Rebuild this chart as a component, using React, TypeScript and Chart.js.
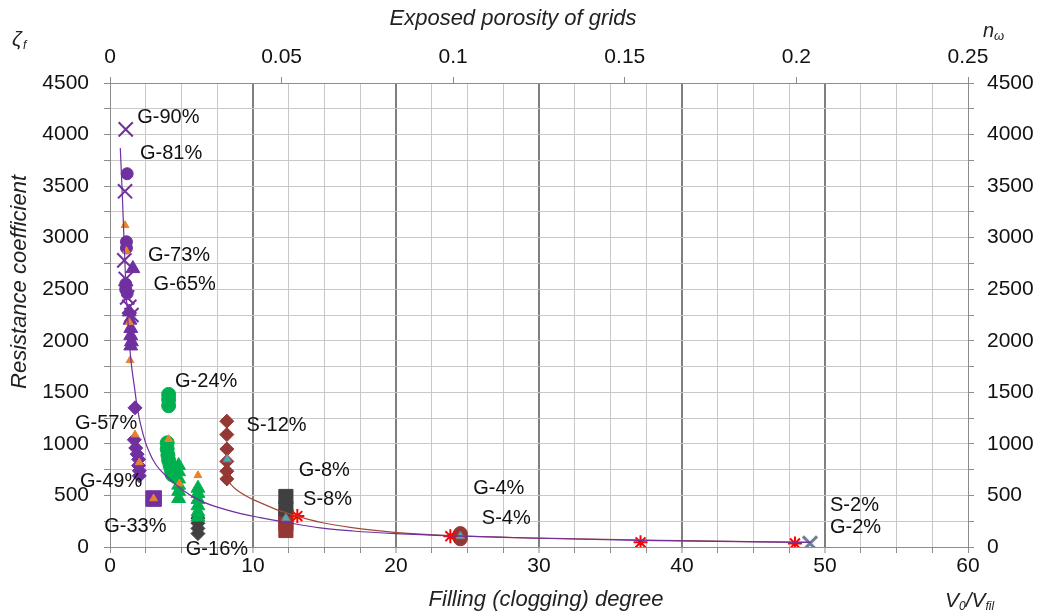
import React, { useEffect, useRef } from 'react';
import { Chart, registerables } from 'chart.js';
Chart.register(...registerables);

const FONT = "'Liberation Sans', Arial, sans-serif";

// ---- data (x = filling degree V0/Vfil, y = resistance coefficient) ----
const purpleCross = [[1.1, 4050], [1.05, 3450], [1.0, 2780], [1.1, 2600], [1.2, 2420], [1.35, 2330], [1.5, 2250]];
const purpleCircle = [[1.2, 3620], [1.15, 2960], [1.15, 2900], [1.1, 2550], [1.1, 2500], [1.2, 2460]];
const purpleTriangle = [[1.6, 2700], [1.35, 2280], [1.4, 2200], [1.45, 2120], [1.45, 2050], [1.5, 1990], [1.45, 1950]];
const purpleDiamond = [[1.75, 1350], [1.7, 1040], [1.8, 960], [1.9, 900], [2.0, 850], [2.0, 790], [2.05, 740], [2.05, 690]];
const purpleSquare = [[3.05, 470]];
const orangeTriangle = [[1.05, 3120], [1.15, 2870], [1.35, 2180], [1.4, 1810], [1.75, 1090], [2.05, 820], [3.05, 470], [4.1, 1045], [4.85, 615], [6.15, 695]];
const blueTriangle = [[8.2, 850], [12.3, 280], [24.5, 105]];
const greenCircle = [[4.1, 1480], [4.1, 1430], [4.1, 1370], [4.0, 1010], [4.0, 950], [4.05, 890], [4.1, 840], [4.2, 790], [4.3, 740], [4.35, 700]];
const greenTriangle = [[4.8, 790], [4.8, 730], [4.8, 660], [4.8, 600], [4.8, 540], [4.8, 470], [6.15, 570], [6.15, 520], [6.15, 460], [6.15, 400], [6.15, 340], [6.15, 290]];
const greyDiamond = [[6.15, 280], [6.15, 230], [6.15, 180], [6.15, 130]];
const greySquare = [[12.3, 490], [12.3, 370]];
const redDiamond = [[8.17, 1220], [8.17, 1090], [8.17, 950], [8.17, 830], [8.17, 735], [8.17, 660]];
const redSquare = [[12.3, 300], [12.3, 230], [12.3, 160]];
const redCircle = [[24.5, 130], [24.5, 100], [24.5, 80]];
const redStar = [[13.1, 300], [23.8, 105], [37.1, 45], [47.9, 35]];
const slateCross = [[48.95, 35]];

const purpleTrend = [[0.72, 3870], [0.85, 3450], [0.95, 3090], [1.12, 2500], [1.3, 2100], [1.47, 1800], [1.7, 1560], [1.93, 1330], [2.3, 1100], [2.65, 950], [3.2, 800], [4.0, 680], [5.0, 560], [6.3, 450], [8.4, 350], [10.5, 285], [12.3, 240], [14.7, 185], [17, 155], [20, 130], [24, 108], [30, 85], [37, 65], [44, 52], [49, 44]];
const brownTrend = [[8.3, 630], [8.8, 560], [9.85, 470], [10.5, 430], [11.9, 350], [13.1, 300], [14.7, 240], [16.8, 190], [20.1, 140], [23.8, 110], [30, 86], [40, 62], [49, 45]];

const groupLabels = ['G-90%', 'G-81%', 'G-73%', 'G-65%', 'G-24%', 'G-57%', 'S-12%', 'G-49%', 'G-8%', 'S-8%', 'G-4%', 'S-4%', 'G-33%', 'G-16%', 'S-2%', 'G-2%'];
const groupLabelX = [1.9, 2.1, 2.65, 3.05, 4.55, -2.45, 9.55, -2.1, 13.2, 13.5, 25.4, 26.0, -0.4, 5.3, 50.35, 50.35];
const groupLabelY = [4170, 3820, 2830, 2550, 1605, 1200, 1180, 640, 745, 465, 570, 280, 195, -20, 405, 185];

const topTickLabels = ['0', '0.05', '0.1', '0.15', '0.2', '0.25'];

const pts = (a: number[][]) => a.map(([x, y]) => ({ x, y }));

function sc(data: number[][], pointStyle: string, fill: string, border: string, r: number, bw = 1): any {
  return {
    type: 'scatter',
    data: pts(data),
    pointStyle,
    pointRadius: r,
    pointBackgroundColor: fill,
    pointBorderColor: border,
    pointBorderWidth: bw,
    showLine: false,
  };
}

function ln(data: number[][], color: string): any {
  return {
    type: 'scatter',
    data: pts(data),
    showLine: true,
    borderColor: color,
    borderWidth: 1.2,
    pointRadius: 0,
    cubicInterpolationMode: 'monotone',
    fill: false,
  };
}

const textPlugin = {
  id: 'texts',
  afterDraw(chart: any) {
    const ctx = chart.ctx;
    const xs = chart.scales.x;
    const ys = chart.scales.y;
    ctx.save();
    ctx.fillStyle = '#111';
    ctx.textBaseline = 'middle';
    ctx.textAlign = 'left';
    ctx.font = `20px ${FONT}`;
    groupLabels.forEach((t, i) => {
      ctx.fillText(t, xs.getPixelForValue(groupLabelX[i]), ys.getPixelForValue(groupLabelY[i]));
    });
    ctx.font = `italic 22px ${FONT}`;
    ctx.textAlign = 'center';
    ctx.fillStyle = '#222';
    ctx.fillText('Exposed porosity of grids', 513, 19);
    ctx.fillText('Filling (clogging) degree', 546, 600);
    ctx.save();
    ctx.translate(20, 282);
    ctx.rotate(-Math.PI / 2);
    ctx.fillText('Resistance coefficient', 0, 0);
    ctx.restore();
    // zeta_f
    ctx.textAlign = 'left';
    ctx.font = `italic 21px ${FONT}`;
    ctx.fillText('ζ', 12, 40);
    ctx.font = `italic 12px ${FONT}`;
    ctx.fillText('f', 23, 46);
    // n_omega
    ctx.font = `italic 20px ${FONT}`;
    ctx.fillText('n', 983, 31);
    ctx.font = `italic 13px ${FONT}`;
    ctx.fillText('ω', 994, 36);
    // V0/Vfil
    ctx.font = `italic 21px ${FONT}`;
    let x = 945;
    ctx.fillText('V', x, 601);
    x += ctx.measureText('V').width;
    ctx.font = `italic 12px ${FONT}`;
    ctx.fillText('0', x, 607);
    x += ctx.measureText('0').width;
    ctx.font = `italic 21px ${FONT}`;
    ctx.fillText('/V', x, 601);
    x += ctx.measureText('/V').width;
    ctx.font = `italic 12px ${FONT}`;
    ctx.fillText('fil', x, 607);
    ctx.restore();
  },
};

export default function App() {
  const ref = useRef<HTMLCanvasElement | null>(null);
  useEffect(() => {
    if (!ref.current) return;
    const PURPLE = '#7030A0';
    const GREEN = '#00B050';
    const DRED = '#953735';
    const GREY = '#404040';
    const ORANGE = '#E8822E';
    const axisCol = '#8c8c8c';
    const tickFont = { family: FONT, size: 21 };
    const isMajor = (c: any) => c.tick && Math.abs(c.tick.value % 10) < 1e-6 && c.tick.value > 0 && c.tick.value < 60;
    const chart = new Chart(ref.current, {
      type: 'scatter',
      data: {
        datasets: [
          ln(purpleTrend, PURPLE),
          ln(brownTrend, '#A04A3A'),
          sc(orangeTriangle, 'triangle', ORANGE, ORANGE, 4.5),
          sc(blueTriangle, 'triangle', '#4BACC6', '#7f7f7f', 5),
          sc(redStar, 'star', '#FF0000', '#FF0000', 7, 2),
          sc(slateCross, 'crossRot', '#6E7F99', '#6E7F99', 10, 3),
          sc(purpleCross, 'crossRot', PURPLE, PURPLE, 10, 2),
          sc(purpleCircle, 'circle', PURPLE, PURPLE, 6),
          sc(purpleTriangle, 'triangle', PURPLE, PURPLE, 8),
          sc(purpleDiamond, 'rectRot', PURPLE, PURPLE, 7),
          sc(purpleSquare, 'rect', PURPLE, PURPLE, 11),
          sc(greenCircle, 'circle', GREEN, GREEN, 7),
          sc(greenTriangle, 'triangle', GREEN, GREEN, 8),
          sc(greyDiamond, 'rectRot', GREY, GREY, 7),
          sc(greySquare, 'rect', GREY, GREY, 10),
          sc(redDiamond, 'rectRot', DRED, DRED, 7),
          sc(redSquare, 'rect', DRED, DRED, 10),
          sc(redCircle, 'circle', DRED, DRED, 7),
        ],
      },
      options: {
        responsive: false,
        animation: false,
        devicePixelRatio: 1,
        layout: { padding: 0 },
        plugins: { legend: { display: false }, tooltip: { enabled: false } },
        scales: {
          x: {
            type: 'linear',
            position: 'bottom',
            min: 0,
            max: 60,
            afterFit: (s: any) => { s.height = 69; },
            ticks: {
              stepSize: 2.5,
              autoSkip: false,
              maxRotation: 0,
              font: tickFont,
              color: '#111',
              padding: 1,
              callback: (v: any) => (Number(v) % 10 === 0 ? String(v) : ''),
            },
            grid: {
              color: (c: any) => (isMajor(c) ? '#7f7f7f' : '#c8c8c8'),
              lineWidth: (c: any) => (isMajor(c) ? 2 : 1),
              tickColor: axisCol,
              tickLength: 6,
              tickWidth: 1,
            },
            border: { display: true, color: axisCol, width: 1 },
          },
          x2: {
            type: 'linear',
            position: 'top',
            min: 0,
            max: 0.25,
            afterFit: (s: any) => { s.height = 83; },
            ticks: {
              stepSize: 0.05,
              autoSkip: false,
              maxRotation: 0,
              font: tickFont,
              color: '#111',
              padding: 7,
              callback: (_v: any, i: number) => topTickLabels[i] ?? '',
            },
            grid: { drawOnChartArea: false, tickColor: axisCol, tickLength: 6 },
            border: { display: true, color: axisCol, width: 1 },
          },
          y: {
            type: 'linear',
            position: 'left',
            min: 0,
            max: 4500,
            afterFit: (s: any) => { s.width = 110; },
            ticks: {
              stepSize: 250,
              autoSkip: false,
              font: tickFont,
              color: '#111',
              padding: 15,
              callback: (v: any) => (Number(v) % 500 === 0 ? String(v) : ''),
            },
            grid: { color: '#c8c8c8', lineWidth: 1, tickColor: axisCol, tickLength: 6 },
            border: { display: true, color: axisCol, width: 1 },
          },
          y2: {
            type: 'linear',
            position: 'right',
            display: true,
            min: 0,
            max: 4500,
            afterFit: (s: any) => { s.width = 75; },
            ticks: {
              stepSize: 250,
              autoSkip: false,
              font: tickFont,
              color: '#111',
              padding: 13,
              callback: (v: any) => (Number(v) % 500 === 0 ? String(v) : ''),
            },
            grid: { drawOnChartArea: false, tickColor: axisCol, tickLength: 6 },
            border: { display: true, color: axisCol, width: 1 },
          },
        },
      },
      plugins: [textPlugin],
    } as any);
    return () => chart.destroy();
  }, []);
  return (
    <div style={{ position: 'fixed', left: 0, top: 0, width: 1043, height: 616, background: '#fff' }}>
      <canvas ref={ref} width={1043} height={616} style={{ display: 'block' }} />
    </div>
  );
}
